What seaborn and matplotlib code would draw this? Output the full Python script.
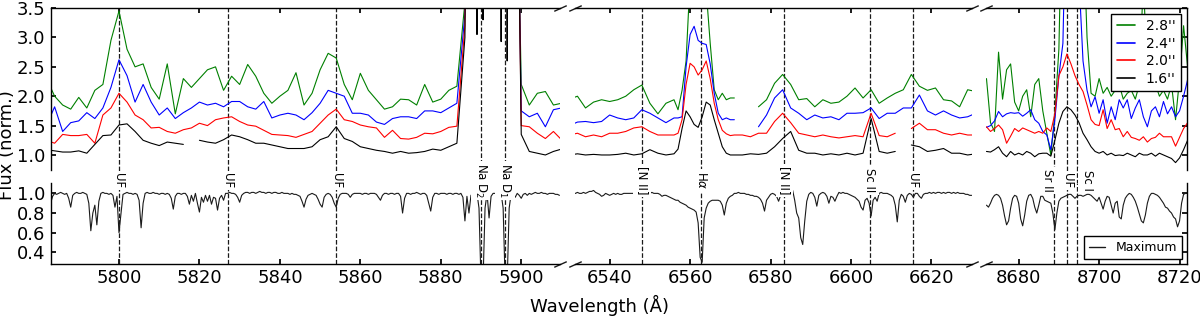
"""
Aperture spectra around Na D, H-alpha and the 8690 A window,
with the spectrum at maximum light shown underneath.
"""

import matplotlib

matplotlib.use("Agg")
import matplotlib.pyplot as plt
import matplotlib.transforms as mtransforms
import numpy as np
import pandas as pd
import seaborn as sns
from matplotlib.lines import Line2D
from matplotlib.ticker import FormatStrFormatter, MultipleLocator

nan = np.nan

# wavelength windows shown (Angstrom)
xlims = [(5783.1, 5909.7), (6531.3, 6630.0), (8671.9, 8721.8)]

# ---- aperture spectra (upper panels) ----
apertures = ["2.8''", "2.4''", "2.0''", "1.6''"]
ap_colors = ["#008000", "#0000ff", "#ff0000", "#000000"]

# window 1: 2 A steps, 0.5 A across the Na D emission, then 2 A again
wl_top1 = np.r_[np.arange(5782, 5888, 2), np.arange(5888, 5900, 0.5), np.arange(5900, 5911, 2)]
green_1 = [2.30, 2.00, 1.85, 1.78, 1.98, 1.80, 2.10, 2.20, 2.95, 3.45,
           2.80, 2.50, 2.55, 2.15, 1.95, 2.55, 1.70, 2.30, 2.15, 2.30,
           2.45, 2.50, 2.10, 2.34, 2.20, 2.54, 2.34, 2.05, 1.88, 2.00,
           2.10, 2.40, 1.85, 2.05, 2.45, 2.73, 2.65, 2.20, 1.94, 2.39,
           2.10, 1.94, 1.78, 1.82, 1.95, 1.94, 1.85, 2.20, 1.90, 1.95,
           2.10, 2.17, 3.60,
           20.0, 20.0, 20.0, 20.0, 20.0, 20.0, 20.0, 20.0, 20.0, 20.0, 20.0, 20.0,
           20.0, 20.0, 20.0, 20.0, 20.0, 20.0, 20.0, 20.0, 20.0, 20.0, 20.0, 4.0,
           2.20, 1.85, 2.05, 2.08, 1.85, 1.88]
blue_1 = [1.50, 1.82, 1.40, 1.55, 1.58, 1.72, 1.62, 1.80, 2.15, 2.62,
          2.35, 1.90, 2.20, 1.90, 1.68, 1.80, 1.62, 1.72, 1.80, 1.90,
          1.85, 1.88, 1.82, 1.91, 1.91, 1.82, 1.78, 1.91, 1.63, 1.68,
          1.71, 1.68, 1.60, 1.72, 1.88, 2.10, 2.05, 2.00, 1.71, 1.71,
          1.68, 1.56, 1.52, 1.62, 1.65, 1.65, 1.62, 1.75, 1.75, 1.72,
          1.80, 1.88, 3.40,
          20.0, 20.0, 20.0, 20.0, 20.0, 20.0, 20.0, 20.0, 20.0, 20.0, 20.0, 20.0,
          20.0, 20.0, 20.0, 20.0, 20.0, 20.0, 20.0, 20.0, 20.0, 20.0, 20.0, 4.0,
          1.75, 1.65, 1.71, 1.48, 1.77, 1.80]
red_1 = [1.25, 1.20, 1.35, 1.33, 1.33, 1.35, 1.20, 1.68, 1.80, 2.05,
         1.90, 1.68, 1.60, 1.46, 1.47, 1.40, 1.37, 1.43, 1.46, 1.54,
         1.50, 1.60, 1.63, 1.65, 1.57, 1.51, 1.49, 1.42, 1.35, 1.34,
         1.33, 1.30, 1.35, 1.40, 1.54, 1.68, 1.78, 1.60, 1.57, 1.51,
         1.48, 1.46, 1.30, 1.42, 1.28, 1.27, 1.30, 1.37, 1.36, 1.40,
         1.47, 1.49, 3.20,
         20.0, 20.0, 20.0, 20.0, 20.0, 20.0, 20.0, 20.0, 20.0, 20.0, 20.0, 20.0,
         20.0, 20.0, 20.0, 20.0, 20.0, 20.0, 20.0, 20.0, 20.0, 20.0, 20.0, 4.0,
         1.50, 1.48, 1.37, 1.28, 1.40, 1.26]
black_1 = [1.09, 1.07, 1.05, 1.05, 1.07, 1.03, 1.18, 1.33, 1.34, 1.51,
           1.53, 1.40, 1.25, 1.20, 1.16, 1.22, 1.20, 1.18, nan, 1.25,
           1.22, 1.20, 1.26, 1.34, 1.31, 1.26, 1.20, 1.20, 1.17, 1.14,
           1.11, 1.11, 1.11, 1.14, 1.26, 1.31, 1.48, 1.28, 1.23, 1.14,
           1.11, 1.08, 1.06, 1.03, 1.06, 1.03, 1.04, 1.06, 1.10, 1.08,
           1.14, 1.20, 3.00,
           20.0, 20.0, 3.05, 20.0, 20.0, 3.30, 20.0, 20.0, 20.0, 20.0, 20.0, 20.0,
           20.0, 20.0, 2.93, 20.0, 20.0, 2.60, 20.0, 20.0, 20.0, 20.0, 20.0, 4.0,
           1.35, 1.06, 1.03, 1.00, 1.06, 1.10]

# window 2: 2 A steps, 1 A across H-alpha, then 2 A again
wl_top2 = np.r_[np.arange(6530, 6556, 2), np.arange(6556, 6571, 1), np.arange(6571, 6632, 2)]
green_2 = [1.95, 2.00, 1.80, 1.90, 1.94, 1.91, 1.94, 2.00, 2.11, 2.19, 1.88, 1.70, 1.88,
           1.94, 1.77, 2.10, 2.60, 4.00, 6.00, 6.00, 6.00, 3.80, 2.90, 2.11, 1.94, 2.05, 1.94, 1.97,
           1.97, nan, nan, 1.82, 1.94, 2.22, 2.37, 2.20, 1.94, 1.96, 1.82, 1.94, 1.88, 1.90, 2.00,
           2.14, 1.97, 2.11, 1.88, 1.97, 2.05, 2.11, 2.37, 2.17, 2.10, 2.14, 1.94, 1.92, 1.82,
           2.11, 2.08]
blue_2 = [1.50, 1.56, 1.57, 1.55, 1.57, 1.68, 1.63, 1.60, 1.63, 1.77, 1.71, 1.63, 1.55,
          1.63, 1.63, 1.65, 2.50, 3.05, 3.19, 2.95, 2.90, 2.88, 2.55, 2.05, 1.71, 1.60, 1.63, 1.60,
          1.60, nan, nan, 1.48, 1.68, 1.97, 2.11, 1.80, 1.71, 1.60, 1.68, 1.63, 1.65, 1.60, 1.71,
          1.71, 1.72, 1.80, 1.62, 1.71, 1.71, 1.80, 1.80, 2.02, 1.75, 1.68, 1.75, 1.68, 1.63,
          1.65, 1.71]
red_2 = [1.34, 1.37, 1.31, 1.34, 1.31, 1.37, 1.37, 1.40, 1.46, 1.48, 1.40, 1.34, 1.34,
         1.34, 1.37, 1.60, 2.20, 2.56, 2.50, 2.36, 2.45, 2.60, 2.30, 1.88, 1.60, 1.42, 1.36, 1.33,
         1.34, 1.34, 1.31, 1.37, 1.37, 1.57, 1.71, 1.55, 1.37, 1.34, 1.31, 1.34, 1.31, 1.29, 1.31,
         1.33, 1.31, 1.71, 1.33, 1.31, 1.37, nan, 1.45, 1.54, 1.43, 1.43, 1.37, 1.34, 1.37,
         1.34, 1.34]
black_2 = [1.00, 1.02, 1.00, 1.01, 1.00, 1.00, 1.01, 1.03, 1.00, 1.02, 1.09, 1.03, 1.00,
           1.02, 1.10, 1.45, 1.75, 1.65, 1.52, 1.47, 1.65, 1.90, 1.85, 1.60, 1.37, 1.14, 1.03, 1.00,
           1.00, 1.00, 1.02, 1.01, 1.03, 1.14, 1.28, 1.40, 1.08, 1.03, 1.03, 1.00, 1.02, 1.00, 1.03,
           1.00, 1.03, 1.62, 1.06, 1.03, 1.06, nan, 1.17, 1.14, 1.06, 1.08, 1.11, 1.03, 1.03,
           1.00, 1.02]

# window 3: 1 A steps
wl_top3 = np.arange(8672, 8723, 1)
green_3 = [2.30, 1.55, 1.40, 2.75, 1.95, 2.45, 2.55, 1.90, 1.75, 2.00, 2.11, 1.65, 2.20, 2.30,
           1.75, 1.37, 1.00, 1.70, 2.80, 6.00, 6.00, 6.00, 6.00, 6.00, 5.00, 3.00, 2.05, 2.00,
           2.30, 2.05, 2.15, 2.00, 2.10, 2.20, 1.95, 2.05, 2.10, 1.95, 2.20, 4.00, 2.30, 2.10,
           2.20, 2.00, 2.10, 1.95, 2.20, 1.60, 2.30, 3.20, 2.50]
blue_3 = [1.47, 1.50, 1.58, 1.74, 1.65, 1.70, 1.72, 1.71, 1.72, 1.66, 1.71, 1.77, 1.60, 1.54,
          1.40, 1.34, 1.09, 1.60, 2.34, 2.90, 6.00, 6.00, 6.00, 4.00, 2.60, 2.10, 1.82, 1.99,
          1.71, 1.94, 1.54, 1.82, 1.60, 1.94, 1.80, 1.94, 1.62, 1.80, 1.94, 1.65, 1.48, 1.75,
          1.82, 1.65, 1.91, 1.70, 1.82, 1.65, 1.75, 2.00, 2.28]
red_3 = [1.48, 1.40, 1.45, 1.51, 1.43, 1.20, 1.32, 1.45, 1.40, 1.46, 1.43, 1.40, 1.37, 1.40,
         1.37, 1.46, 1.40, 1.70, 2.35, 2.50, 2.72, 2.55, 2.35, 2.20, 2.08, 1.85, 1.60, 1.52,
         1.50, 1.77, 1.45, 1.60, 1.43, 1.45, 1.31, 1.40, 1.30, 1.28, 1.25, 1.31, 1.22, 1.28,
         1.30, 1.37, 1.31, 1.31, 1.31, 1.15, 1.30, 1.45, 1.55]
black_3 = [1.06, 1.05, 1.09, 1.14, 1.03, 0.97, 1.06, 1.00, 1.03, 1.00, 1.06, 1.03, 0.97, 1.02,
           1.03, 1.03, 0.98, 1.25, 1.54, 1.74, 1.82, 1.77, 1.68, 1.55, 1.37, 1.26, 1.14, 1.06,
           1.03, 1.06, 1.00, 1.03, 0.99, 1.00, 0.99, 1.03, 1.00, 0.97, 1.03, 1.00, 1.00, 1.03,
           0.98, 1.03, 1.00, 0.97, 0.94, 0.87, 0.95, 1.09, 1.25]

# ---- spectrum at maximum (lower panels), 0.5 A steps ----
max_start = [5783.0, 6531.0, 8672.0]
max_1 = [0.90, 0.97, 1.00, 0.99, 1.00, 1.01, 1.00, 0.99, 1.00, 0.95,
         0.86, 0.98, 1.00, 1.01, 1.00, 1.00, 1.01, 1.00, 0.99, 0.90,
         0.62, 0.80, 0.88, 0.68, 0.92, 1.00, 1.01, 1.00, 1.00, 0.99,
         1.00, 0.98, 0.86, 0.97, 0.60, 0.80, 0.99, 1.00, 1.01, 1.00,
         1.00, 0.99, 1.00, 0.99, 0.93, 0.65, 0.90, 1.00, 1.01, 1.00,
         1.00, 1.01, 1.00, 1.00, 0.99, 1.00, 1.00, 0.99, 1.00, 0.99,
         0.95, 0.84, 0.97, 1.00, 1.00, 0.99, 1.00, 1.00, 0.97, 0.89,
         0.98, 0.92, 1.00, 0.90, 0.81, 0.96, 0.91, 0.98, 0.92, 0.98,
         0.89, 0.96, 0.95, 0.83, 0.95, 0.98, 0.93, 1.00, 1.00, 1.01,
         1.00, 1.00, 0.99, 0.96, 0.91, 0.98, 1.00, 1.01, 1.01, 1.00,
         1.01, 1.01, 1.00, 1.01, 1.02, 1.01, 1.01, 1.00, 1.01, 1.01,
         1.00, 1.01, 1.01, 1.00, 1.00, 1.01, 1.00, 1.00, 1.00, 0.99,
         1.00, 0.99, 0.99, 0.98, 0.97, 0.92, 0.86, 0.94, 0.98, 0.99,
         1.00, 0.99, 0.98, 0.94, 0.89, 0.86, 0.96, 0.99, 1.00, 0.99,
         0.96, 0.90, 0.86, 0.95, 0.99, 1.00, 1.00, 1.00, 0.99, 0.96,
         0.99, 1.00, 1.00, 1.00, 1.00, 0.99, 1.00, 1.00, 0.99, 1.00,
         1.00, 1.00, 0.99, 0.96, 0.93, 0.98, 1.00, 1.00, 0.99, 1.00,
         1.00, 0.99, 1.00, 1.00, 0.97, 0.80, 0.95, 1.00, 1.00, 0.99,
         1.00, 1.00, 1.01, 1.00, 0.99, 1.00, 1.00, 0.98, 0.90, 0.82,
         0.96, 1.00, 1.00, 0.99, 1.00, 1.00, 1.00, 0.99, 1.00, 1.00,
         0.99, 1.00, 1.00, 0.99, 1.00, 0.96, 0.72, 0.97, 0.80, 0.98,
         1.00, 1.00, 1.00, 0.85, 0.10, 0.10, 0.85, 1.00, 0.75, 0.97,
         1.00, 1.00, 1.00, 1.00, 1.00, 0.85, 0.10, 0.10, 0.85, 1.00,
         1.00, 0.96, 1.00, 0.98, 0.95, 0.99, 1.00, 0.98, 1.00, 0.99,
         1.00, 1.01, 1.00, 1.00, 1.01, 1.00, 1.00, 0.99, 1.00, 1.00,
         1.00, 0.99, 0.99, 0.98]
max_2 = [1.00, 1.00, 1.01, 1.00, 1.00, 1.01, 1.00, 1.01, 1.02, 1.02,
         1.03, 1.01, 1.00, 0.99, 0.97, 0.98, 1.00, 0.99, 0.98, 0.99,
         1.00, 0.99, 1.00, 0.99, 0.99, 1.00, 1.00, 1.00, 1.00, 1.00,
         1.00, 1.00, 1.00, 1.00, 1.00, 1.00, 1.00, 1.00, 1.00, 1.01,
         1.00, 1.00, 1.00, 0.99, 0.97, 0.98, 0.98, 0.97, 0.96, 0.95,
         0.94, 0.93, 0.93, 0.91, 0.90, 0.89, 0.88, 0.86, 0.85, 0.84,
         0.83, 0.81, 0.70, 0.35, 0.30, 0.75, 0.85, 0.90, 0.92, 0.93,
         0.93, 0.93, 0.93, 0.92, 0.88, 0.78, 0.90, 0.95, 0.97, 0.98,
         1.00, 1.00, 1.01, 1.00, 1.00, 1.00, 0.99, 0.99, 0.98, 0.98,
         0.97, 0.97, 0.96, 0.94, 0.90, 0.82, 0.93, 0.96, 0.99, 1.00,
         0.99, 0.97, 0.92, 0.98, 1.00, 1.00, 1.01, 1.01, 1.02, 1.03,
         0.93, 0.80, 0.75, 0.55, 0.48, 0.72, 0.92, 0.99, 1.01, 1.00,
         0.96, 0.87, 0.98, 1.00, 1.01, 1.00, 0.97, 0.90, 0.97, 0.96,
         0.92, 0.97, 1.01, 1.00, 1.01, 1.00, 1.00, 0.99, 0.98, 0.97,
         0.96, 0.94, 0.92, 0.86, 0.83, 0.93, 0.95, 0.90, 0.77, 0.93,
         0.96, 0.92, 1.00, 1.01, 1.00, 1.00, 1.00, 0.99, 0.98, 0.96,
         0.88, 0.71, 0.93, 0.99, 0.97, 0.91, 0.98, 1.00, 0.99, 0.96,
         1.00, 1.00, 0.97, 0.95, 0.99, 1.00, 1.00, 1.01, 1.00, 1.01,
         1.00, 1.01, 1.01, 1.00, 1.01, 1.00, 1.01, 1.01, 1.00, 1.01,
         1.00, 1.01, 1.00, 1.00, 1.00, 0.99, 0.99, 0.98, 0.98]
max_3 = [0.88, 0.86, 0.90, 0.95, 0.98, 0.99, 0.98, 0.95, 0.88, 0.77,
         0.68, 0.72, 0.85, 0.95, 0.98, 0.97, 0.90, 0.74, 0.67, 0.78,
         0.92, 0.98, 0.99, 0.95, 0.86, 0.80, 0.88, 0.97, 0.97, 0.93,
         0.92, 0.91, 0.90, 0.80, 0.63, 0.80, 0.92, 0.95, 0.96, 0.97,
         0.98, 0.99, 0.99, 0.97, 0.95, 0.97, 0.98, 0.98, 0.97, 0.98,
         0.99, 0.99, 0.98, 0.96, 0.94, 0.92, 0.96, 0.90, 0.84, 0.92,
         0.97, 0.96, 0.88, 0.80, 0.90, 0.92, 0.76, 0.74, 0.88, 0.95,
         0.98, 1.00, 0.99, 0.96, 0.92, 0.86, 0.79, 0.72, 0.70, 0.78,
         0.90, 0.97, 1.00, 1.00, 0.99, 0.98, 0.96, 0.93, 0.90, 0.86,
         0.85, 0.82, 0.80, 0.76, 0.74, 0.66, 0.72, 0.90, 0.99, 1.00,
         1.00]

# ---- identified lines ----
line_wl = [5800.0, 5827.1, 5854.0, 5889.95, 5895.92, 6548.05, 6562.8, 6583.45,
           6604.7, 6615.3, 8688.8, 8692.1, 8694.6]
line_names = ["UF", "UF", "UF", "Na D$_2$", "Na D$_1$", "[N II]", r"H$\alpha$", "[N II]",
              "Sc II", "UF", "Sr II", "UF", "Sc I"]
# sideways nudge (points) for the crowded labels near 8690 A
line_shift = [0, 0, 0, 0, 0, 0, 0, 0, 0, 0, -5, 0, 7]

top_wl = [wl_top1, wl_top2, wl_top3]
top_series = [[green_1, green_2, green_3], [blue_1, blue_2, blue_3],
              [red_1, red_2, red_3], [black_1, black_2, black_3]]
max_series = [max_1, max_2, max_3]

sns.set_theme(style="ticks", rc={
    "axes.edgecolor": "black", "axes.linewidth": 1.0,
    "xtick.color": "black", "ytick.color": "black", "text.color": "black",
    "xtick.direction": "in", "ytick.direction": "in",
    "xtick.major.size": 3.5, "ytick.major.size": 3.5,
    "xtick.labelsize": 13, "ytick.labelsize": 13,
    "legend.fancybox": False, "legend.edgecolor": "black", "legend.framealpha": 1.0,
})
plt.rcParams["font.family"] = ["DejaVu Sans"]

fig = plt.figure(figsize=(12, 3.23), dpi=100)
gs = fig.add_gridspec(2, 3, width_ratios=[hi - lo for lo, hi in xlims], height_ratios=[2, 1],
                      left=0.0425, right=0.989, top=0.975, bottom=0.183,
                      wspace=0.039, hspace=0.107)
axes_top = [fig.add_subplot(gs[0, i]) for i in range(3)]
axes_bot = [fig.add_subplot(gs[1, i]) for i in range(3)]

palette = dict(zip(apertures, ap_colors))

for i in range(3):
    ax, axb = axes_top[i], axes_bot[i]

    # upper panel: one frame per window, gaps kept by splitting on NaN
    frames = []
    for name, series in zip(apertures, top_series):
        flux = np.asarray(series[i], dtype=float)
        frames.append(pd.DataFrame({"wl": top_wl[i], "flux": flux, "aperture": name,
                                    "seg": np.cumsum(np.isnan(flux))}))
    df = pd.concat(frames, ignore_index=True)
    sns.lineplot(data=df, x="wl", y="flux", hue="aperture", hue_order=apertures,
                 palette=palette, units="seg", estimator=None, sort=False,
                 lw=0.8, legend=False, ax=ax)

    # lower panel
    flux_max = np.asarray(max_series[i], dtype=float)
    wl_max = max_start[i] + 0.5 * np.arange(len(flux_max))
    sns.lineplot(x=wl_max, y=flux_max, color="k", lw=0.8, estimator=None,
                 sort=False, ax=axb)

    lo, hi = xlims[i]
    for a in (ax, axb):
        a.set_xlim(lo, hi)
        a.set(xlabel="", ylabel="")
        a.xaxis.set_major_locator(MultipleLocator(20))
        a.xaxis.set_major_formatter(FormatStrFormatter("%d"))
    ax.set_ylim(0.745, 3.5)
    ax.set_yticks([1.0, 1.5, 2.0, 2.5, 3.0, 3.5])
    axb.set_ylim(0.283, 1.106)
    axb.set_yticks([0.4, 0.6, 0.8, 1.0])

    # spines and ticks
    ax.spines["bottom"].set_visible(False)
    axb.spines["top"].set_visible(False)
    for a in (ax, axb):
        a.spines["left"].set_visible(i == 0)
        a.spines["right"].set_visible(i == 2)
        a.tick_params(axis="y", left=(i == 0), right=(i == 2),
                      labelleft=(i == 0), labelright=False, pad=4)
    ax.tick_params(axis="x", top=True, bottom=False, labeltop=False, labelbottom=False)
    axb.tick_params(axis="x", top=False, bottom=True, labelbottom=True, pad=4)

    # line markers with labels sitting in the gap between the panels
    trans = mtransforms.blended_transform_factory(axb.transData, axb.transAxes)
    for w, name, dx in zip(line_wl, line_names, line_shift):
        if lo < w < hi:
            ax.axvline(w, ymin=-0.085, ymax=1, color="k", ls="--", lw=0.9,
                       clip_on=False, zorder=1)
            axb.axvline(w, color="k", ls="--", lw=0.9, zorder=1)
            axb.text(w, 1.03, name, rotation=270, ha="center", va="center",
                     transform=mtransforms.offset_copy(trans, fig=fig, x=dx, units="points"),
                     fontsize=8.5, zorder=5,
                     bbox=dict(facecolor="white", edgecolor="none", pad=1.5))

# broken-axis marks
brk = dict(marker=[(-1, -0.45), (1, 0.45)], markersize=9, linestyle="none",
           color="k", mec="k", mew=1, clip_on=False)
for i, ax in enumerate(axes_top):
    xs = ([1] if i == 0 else [0, 1] if i == 1 else [0])
    ax.plot(xs, [1] * len(xs), transform=ax.transAxes, **brk)
for i, ax in enumerate(axes_bot):
    xs = ([1] if i == 0 else [0, 1] if i == 1 else [0])
    ax.plot(xs, [0] * len(xs), transform=ax.transAxes, **brk)

# legends
handles = [Line2D([], [], color=c, lw=1.2) for c in ap_colors]
axes_top[2].legend(handles, apertures, loc="upper right", fontsize=10,
                   handlelength=1.3, handletextpad=0.8, labelspacing=0.25,
                   borderaxespad=0.4)
axes_bot[2].legend([Line2D([], [], color="k", lw=1.0)], ["Maximum"], loc="lower right",
                   fontsize=9, handlelength=1.3, handletextpad=0.8, borderaxespad=0.4)

fig.text(-0.002, 1 - 145 / 323, "Flux (norm.)", rotation=90, va="center", ha="left",
         fontsize=13)
fig.text(0.5, 1 - 305 / 323, "Wavelength (Å)", ha="center", va="center", fontsize=13)

fig.savefig("out.png", dpi=100)
